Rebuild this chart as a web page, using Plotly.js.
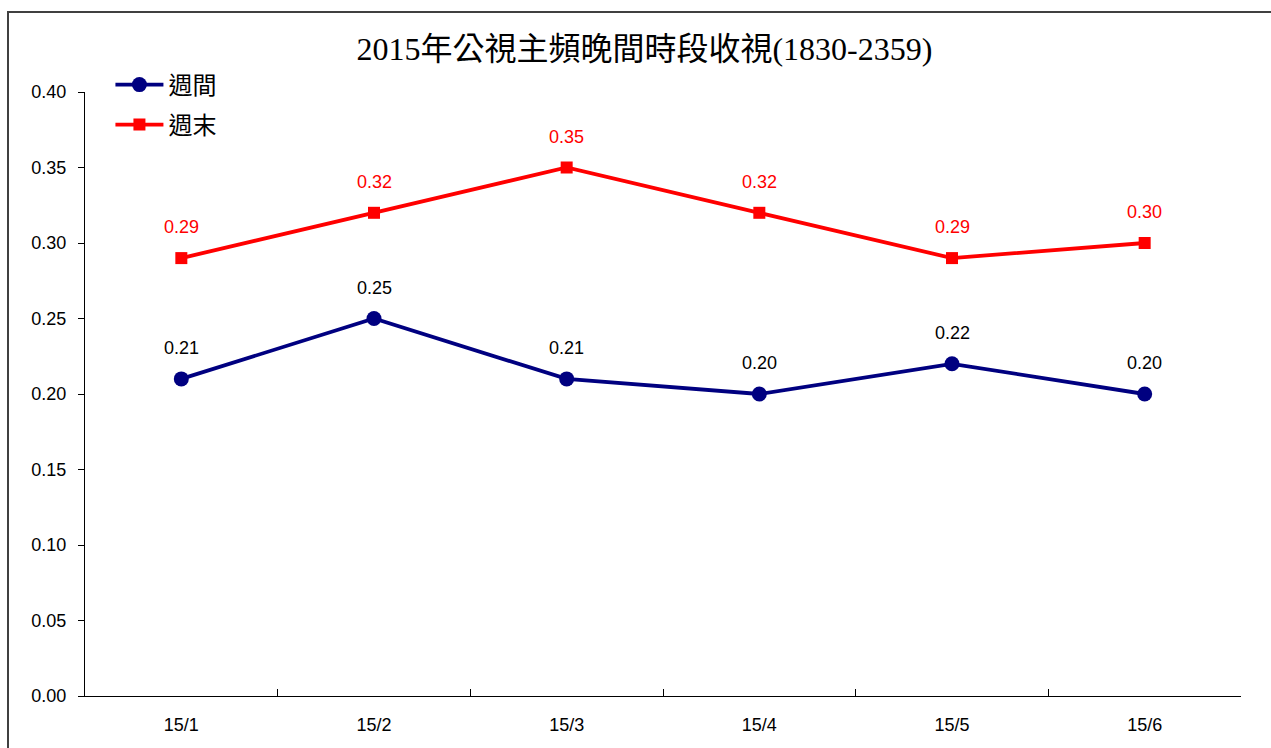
<!DOCTYPE html>
<html><head><meta charset="utf-8">
<script src="https://cdn.plot.ly/plotly-3.0.1.min.js"></script>
<style>
html,body{margin:0;padding:0;overflow:hidden;background:#fff;}
#chart{width:1271px;height:748px;}
#frame{position:absolute;left:7px;top:11px;width:1300px;height:800px;border:2px solid #404040;pointer-events:none;}
</style></head>
<body>
<div id="chart"></div>
<div id="frame"></div>
<script>
const categories = ["15/1","15/2","15/3","15/4","15/5","15/6"];
const weekday = [0.21,0.25,0.21,0.20,0.22,0.20];
const weekend = [0.29,0.32,0.35,0.32,0.29,0.30];
const seriesNames = ["週間","週末"];
const titleText = "2015年公視主頻晚間時段收視(1830-2359)";

const traces = [
  {x:categories,y:weekday,name:seriesNames[0],type:"scatter",mode:"lines+markers",legend:"legend",
   line:{color:"#000080",width:3.8},marker:{symbol:"circle",size:15,color:"#000080"}},
  {x:categories,y:weekend,name:seriesNames[1],type:"scatter",mode:"lines+markers",legend:"legend2",
   line:{color:"#ff0000",width:3.8},marker:{symbol:"square",size:12,color:"#ff0000"}}
];
const annotations = [];
categories.forEach((c,i)=>{
  annotations.push({x:c,y:weekday[i],text:weekday[i].toFixed(2),showarrow:false,yshift:31,
    font:{family:"Liberation Sans, Arial, sans-serif",size:18,color:"#000"}});
  annotations.push({x:c,y:weekend[i],text:weekend[i].toFixed(2),showarrow:false,yshift:31,
    font:{family:"Liberation Sans, Arial, sans-serif",size:18,color:"#ff0000"}});
});
const legFont = {family:"Noto Sans CJK TC, sans-serif",size:24,color:"#000"};
const layout = {
  width:1271,height:748,
  margin:{l:85,r:30,t:92,b:52},
  paper_bgcolor:"#fff",plot_bgcolor:"#fff",
  title:{text:titleText,x:0.507,xanchor:"center",y:0.935,yanchor:"middle",
    font:{family:"Liberation Serif, Times New Roman, Noto Sans CJK TC, serif",size:32,color:"#000"}},
  font:{family:"Liberation Sans, Arial, sans-serif",size:18,color:"#000"},
  showlegend:true,
  legend:{x:0.022,y:1.0116,xanchor:"left",yanchor:"middle",bgcolor:"rgba(0,0,0,0)",font:legFont,itemwidth:48},
  legend2:{x:0.022,y:0.9454,xanchor:"left",yanchor:"middle",bgcolor:"rgba(0,0,0,0)",font:legFont,itemwidth:48},
  xaxis:{type:"category",range:[-0.5,5.5],showline:true,linecolor:"#000",linewidth:1,
    ticks:"inside",ticklen:7,tickcolor:"#000",tickson:"boundaries",
    showgrid:false,zeroline:false,tickfont:{size:18},ticklabelstandoff:12},
  yaxis:{range:[0,0.4],dtick:0.05,tickformat:".2f",showline:true,linecolor:"#000",linewidth:1,
    ticks:"outside",ticklen:6,tickcolor:"#000",showgrid:false,zeroline:false,
    tickfont:{size:18},ticklabelstandoff:8},
  annotations:annotations
};
Plotly.newPlot("chart",traces,layout,{displayModeBar:false,staticPlot:true});
</script>
</body></html>
